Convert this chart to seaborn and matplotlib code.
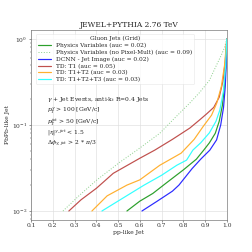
import matplotlib
matplotlib.use("Agg")
import matplotlib.pyplot as plt
import seaborn as sns

# ROC-like curves: x = pp-like jet efficiency, y = PbPb-like jet efficiency
phys_x = [0.541, 0.60, 0.66, 0.72, 0.80, 0.86, 0.894, 0.92, 0.947, 0.965, 0.98, 0.99, 0.997, 1.0]
phys_y = [0.010, 0.013, 0.016, 0.021, 0.030, 0.040, 0.051, 0.062, 0.08, 0.11, 0.17, 0.3, 0.55, 1.0]

physnp_x = [0.247, 0.32, 0.403, 0.509, 0.587, 0.692, 0.76, 0.83, 0.876, 0.92, 0.95, 0.975, 0.99, 1.0]
physnp_y = [0.010, 0.015, 0.023, 0.037, 0.051, 0.08, 0.12, 0.18, 0.24, 0.33, 0.48, 0.65, 0.8, 1.0]

dcnn_x = [0.61, 0.68, 0.75, 0.78, 0.84, 0.88, 0.922, 0.953, 0.972, 0.985, 0.993, 0.998, 1.0]
dcnn_y = [0.010, 0.013, 0.017, 0.020, 0.031, 0.040, 0.051, 0.067, 0.1, 0.16, 0.28, 0.55, 1.0]

t1_x = [0.274, 0.33, 0.401, 0.478, 0.60, 0.669, 0.75, 0.83, 0.876, 0.908, 0.94, 0.965, 0.982, 0.993, 1.0]
t1_y = [0.010, 0.0135, 0.0184, 0.0274, 0.041, 0.051, 0.068, 0.092, 0.115, 0.135, 0.16, 0.21, 0.32, 0.55, 1.0]

t12_x = [0.38, 0.45, 0.541, 0.600, 0.692, 0.79, 0.85, 0.890, 0.93, 0.954, 0.975, 0.99, 1.0]
t12_y = [0.010, 0.015, 0.020, 0.023, 0.034, 0.047, 0.068, 0.095, 0.13, 0.18, 0.28, 0.5, 1.0]

t123_x = [0.426, 0.52, 0.62, 0.70, 0.77, 0.815, 0.844, 0.88, 0.920, 0.95, 0.968, 0.985, 0.995, 1.0]
t123_y = [0.010, 0.014, 0.020, 0.026, 0.034, 0.039, 0.051, 0.062, 0.081, 0.11, 0.149, 0.25, 0.5, 1.0]

labels = [
    "Physics Variables (auc = 0.02)",
    "Physics Variables (no Pixel-Mult) (auc = 0.09)",
    "DCNN - Jet Image (auc = 0.02)",
    "TD: T1 (auc = 0.05)",
    "TD: T1+T2 (auc = 0.03)",
    "TD: T1+T2+T3 (auc = 0.03)",
]
xticks = [0.1, 0.2, 0.3, 0.4, 0.5, 0.6, 0.7, 0.8, 0.9, 1.0]

sns.set_theme(style="whitegrid")
plt.rcParams["font.family"] = ["DejaVu Serif"]
plt.rcParams["mathtext.fontset"] = "dejavuserif"

fig, ax = plt.subplots(figsize=(3.5, 3.5), dpi=72)
fig.subplots_adjust(left=0.123, right=0.90, top=0.881, bottom=0.127)

series = [
    (phys_x, phys_y, "#2ca02c", "-", 1.2),
    (physnp_x, physnp_y, "#8fd18f", ":", 1.0),
    (dcnn_x, dcnn_y, "#2b2bff", "-", 1.2),
    (t1_x, t1_y, "#c0504d", "-", 1.2),
    (t12_x, t12_y, "#ffb030", "-", 1.2),
    (t123_x, t123_y, "#33ffff", "-", 1.2),
]
for (xs, ys, c, ls, lw), lab in zip(series, labels):
    sns.lineplot(x=xs, y=ys, ax=ax, color=c, linestyle=ls, linewidth=lw,
                 label=lab, estimator=None, sort=False)

ax.set_yscale("log")
ax.set_xlim(0.1, 1.0)
ax.set_ylim(0.00786, 1.27)
ax.set_xticks(xticks)
ax.set_xticklabels([f"{v:.1f}" for v in xticks])
ax.tick_params(axis="both", labelsize=6, length=2, width=0.5, pad=1.5,
               colors="#333333", left=True, bottom=True)
ax.tick_params(axis="y", which="minor", left=True, length=1.2, width=0.4)
ax.grid(True, which="major", color="#dddddd", linewidth=0.6)
for s in ax.spines.values():
    s.set_color("#666666")
    s.set_linewidth(0.6)

ax.set_xlabel("pp-like Jet", fontsize=6, labelpad=1.5)
ax.set_ylabel("PbPb-like Jet", fontsize=6, labelpad=2)
ax.set_title("JEWEL+PYTHIA 2.76 TeV", fontsize=7.5, pad=3)

leg = ax.legend(title="Gluon Jets (Grid)", loc="upper left", fontsize=5.9,
                title_fontsize=5.9, frameon=True, borderpad=0.35,
                labelspacing=0.28, handlelength=2.2, handletextpad=0.8,
                bbox_to_anchor=(0.01, 0.995))
leg.get_frame().set_linewidth(0.5)
leg.get_frame().set_edgecolor("#dddddd")

lines = [
    r"$\gamma$ + Jet Events, anti-k$_t$ R=0.4 Jets",
    r"$p_T^{\gamma}$ > 100 [GeV/c]",
    r"$p_T^{jet}$ > 50 [GeV/c]",
    r"$|\eta|^{\gamma,jet}$ < 1.5",
    r"$\Delta\phi_{\gamma,jet}$ > 2 * $\pi$/3",
]
for i, t in enumerate(lines):
    ax.text(0.082, 0.632 - i * 0.058, t, transform=ax.transAxes,
            fontsize=6, va="center", ha="left", color="#222222")

fig.savefig("out.png", dpi=72)
